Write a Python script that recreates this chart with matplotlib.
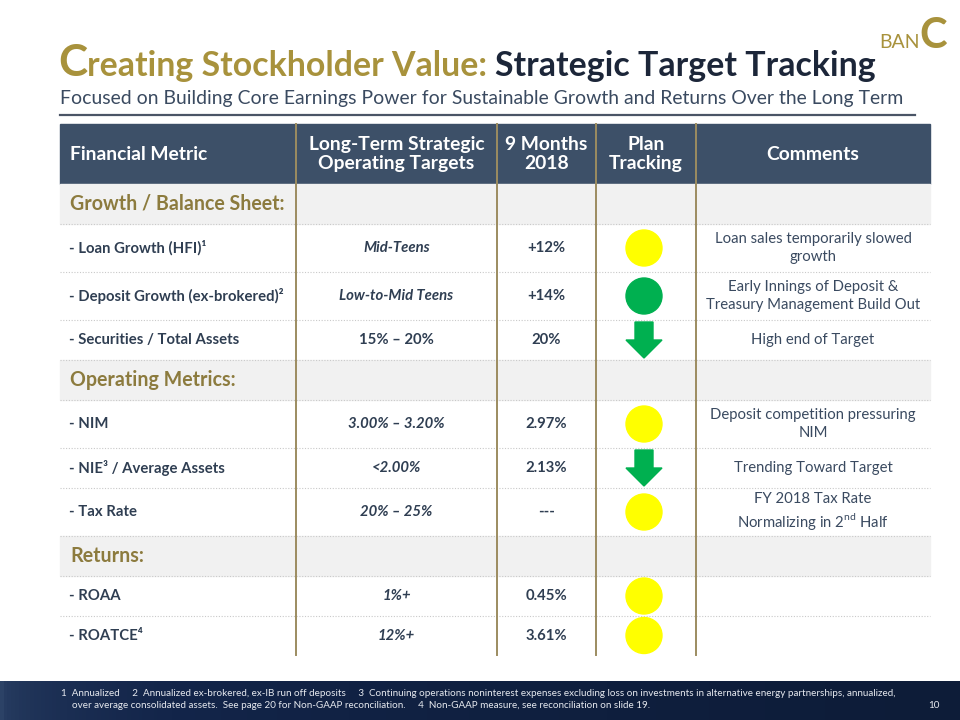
import matplotlib
matplotlib.use("Agg")
import matplotlib.pyplot as plt
import numpy as np
from matplotlib.patches import Rectangle, Circle, Polygon
from matplotlib.colors import LinearSegmentedColormap
from matplotlib import font_manager

# ---- data -----------------------------------------------------------------
headers = ["Financial Metric", "Long-Term Strategic\nOperating Targets",
           "9 Months\n2018", "Plan\nTracking", "Comments"]
section_titles = ["Growth / Balance Sheet:", "Operating Metrics:", "Returns:"]
section_sizes = [3, 3, 2]
metrics = ["- Loan Growth (HFI)¹", "- Deposit Growth (ex-brokered)²",
           "- Securities / Total Assets", "- NIM", "- NIE³ / Average Assets",
           "- Tax Rate", "- ROAA", "- ROATCE⁴"]
targets = ["Mid-Teens", "Low-to-Mid Teens", "15% – 20%", "3.00% – 3.20%",
           "<2.00%", "20% – 25%", "1%+", "12%+"]
target_style = ["italic", "italic", "normal", "italic", "italic", "italic",
                "italic", "italic"]
results = ["+12%", "+14%", "20%", "2.97%", "2.13%", "---", "0.45%", "3.61%"]
status = ["yellow", "green", "down", "yellow", "down", "yellow", "yellow", "yellow"]
comments = ["Loan sales temporarily slowed\ngrowth",
            "Early Innings of Deposit &\nTreasury Management Build Out",
            "High end of Target",
            "Deposit competition pressuring\nNIM",
            "Trending Toward Target",
            "FY 2018 Tax Rate\nNormalizing in 2$^{\\rm nd}$ Half",
            "", ""]
footnotes = ["1  Annualized     2  Annualized ex-brokered, ex-IB run off deposits     "
             "3  Continuing operations noninterest expenses excluding loss on investments "
             "in alternative energy partnerships, annualized,",
             "over average consolidated assets.  See page 20 for Non-GAAP reconciliation.     "
             "4  Non-GAAP measure, see reconciliation on slide 19."]

# ---- style ----------------------------------------------------------------
FONT = ["Lato", "DejaVu Sans"]
plt.rcParams["mathtext.fontset"] = "custom"
plt.rcParams["mathtext.rm"] = "Lato"
try:
    font_manager.findfont("Liberation Sans Narrow", fallback_to_default=False)
    NARROW = ["Liberation Sans Narrow", "DejaVu Sans"]
except Exception:
    NARROW = FONT

GOLD = "#a8923c"
GOLD_DARK = "#8c7b3e"
NAVY = "#1c2639"
SLATE = "#3a4a60"
HEAD = "#3d5068"
TXT = "#2f3e52"
SEP = "#9c8c60"
GREY = "#f1f1f1"
YELLOW = "#ffff00"
GREEN = "#00b050"

fig = plt.figure(figsize=(9.6, 7.2), dpi=100)
ax = fig.add_axes([0, 0, 1, 1])
renderer = fig.canvas.get_renderer()


def width_of(t):
    return t.get_window_extent(renderer).width


def size_for(s, width, family=FONT, **kw):
    t = ax.text(0, 0, s, fontsize=10, family=family, **kw)
    w = width_of(t)
    t.remove()
    return 10 * width / w


# footer band
cmap = LinearSegmentedColormap.from_list("foot", ["#2c4266", "#13254a", "#0d1c38"])
ax.imshow(np.linspace(0, 1, 256)[None, :] ** 0.4, cmap=cmap, aspect="auto",
          extent=[0, 960, 720, 681], zorder=0)
ax.set_xlim(0, 960)
ax.set_ylim(720, 0)
ax.axis("off")

# ---- title ----------------------------------------------------------------
ts = size_for("reating Stockholder Value: Strategic Target Tracking", 790,
              fontweight="bold")
parts = [("C", ts * 1.3, GOLD), ("reating Stockholder Value: ", ts, GOLD),
         ("Strategic Target Tracking", ts, NAVY)]
x = 58
for s, fs, c in parts:
    t = ax.text(x, 76, s, fontsize=fs, color=c, fontweight="bold", family=FONT,
                va="baseline")
    x += width_of(t)

sub = "Focused on Building Core Earnings Power for Sustainable Growth and Returns Over the Long Term"
ax.text(60, 104, sub, fontsize=size_for(sub, 843), color=SLATE, family=FONT,
        va="baseline")
ax.plot([60, 915], [115, 115], color="#4a5566", lw=1.6)

# logo
t = ax.text(879, 48, "BAN", fontsize=14, color=GOLD, family=FONT, va="baseline")
ax.text(879 + width_of(t), 48, "C", fontsize=30, color=GOLD, fontweight="bold",
        family=FONT, va="baseline")

# ---- table ----------------------------------------------------------------
cols = [60, 296, 497, 596, 696, 930]
centers = [(a + b) / 2 for a, b in zip(cols[:-1], cols[1:])]
top, head_h = 124, 60

hs = size_for("Long-Term Strategic", 176, fontweight="bold")
ls = size_for("- Deposit Growth (ex-brokered)", 210, fontweight="bold")
ss = size_for("Growth / Balance Sheet:", 216, fontweight="bold")
cs = size_for("Treasury Management Build Out", 214)

ax.add_patch(Rectangle((cols[0], top), cols[-1] - cols[0], head_h, color=HEAD, zorder=1))
for i, h in enumerate(headers):
    if i == 0:
        ax.text(cols[0] + 10, top + head_h / 2, h, fontsize=hs, color="white",
                fontweight="bold", family=FONT, va="center", ha="left")
    else:
        ax.text(centers[i], top + head_h / 2, h, fontsize=hs, color="white",
                fontweight="bold", family=FONT, va="center", ha="center",
                linespacing=1.15)

# row layout
rows = []
k = 0
for title, n in zip(section_titles, section_sizes):
    rows.append(("section", title, 40))
    for _ in range(n):
        h = 48 if "\n" in comments[k] else 40
        rows.append(("metric", k, h))
        k += 1
rows[-1] = (rows[-1][0], rows[-1][1], 39)

y = top + head_h
for kind, item, h in rows:
    yc = y + h / 2
    if kind == "section":
        ax.add_patch(Rectangle((cols[0], y), cols[-1] - cols[0], h, color=GREY, zorder=1))
        ax.text(cols[0] + 10, yc, item, fontsize=ss, color=GOLD_DARK,
                fontweight="bold", family=FONT, va="center")
    else:
        i = item
        ax.text(cols[0] + 9, yc, metrics[i], fontsize=ls, color=TXT,
                fontweight="bold", family=FONT, va="center")
        ax.text(centers[1], yc, targets[i], fontsize=ls, color=TXT,
                fontweight="bold", fontstyle=target_style[i], family=FONT,
                va="center", ha="center")
        ax.text(centers[2], yc, results[i], fontsize=ls, color=TXT,
                fontweight="bold", family=FONT, va="center", ha="center")
        if comments[i]:
            ax.text(centers[4], yc, comments[i], fontsize=cs, color=SLATE,
                    family=FONT, va="center", ha="center", linespacing=1.3)
        cx = centers[3] - 2
        if status[i] == "down":
            ax.add_patch(Polygon([(cx - 9, yc - 18), (cx + 9, yc - 18), (cx + 9, yc),
                                  (cx + 18, yc), (cx, yc + 18), (cx - 18, yc),
                                  (cx - 9, yc)], color=GREEN, zorder=3))
        else:
            col = YELLOW if status[i] == "yellow" else GREEN
            ax.add_patch(Circle((cx, yc), 18, color=col, zorder=3))
    if y > top + head_h:
        ax.plot([cols[0], cols[-1]], [y, y], color="#c9c9c9", lw=0.8,
                ls=(0, (1, 1.5)), zorder=2)
    y += h

for xc in cols[1:-1]:
    ax.plot([xc, xc], [top, y], color=SEP, lw=1.4, zorder=4)

# ---- footer ---------------------------------------------------------------
fs = size_for(footnotes[0], 833, family=NARROW)
ax.text(61, 693, footnotes[0], fontsize=fs, color="#e6e9ef", family=NARROW,
        va="center")
ax.text(72, 706, footnotes[1], fontsize=fs, color="#e6e9ef", family=NARROW,
        va="center")
ax.text(940, 706, "10", fontsize=fs, color="#e6e9ef", family=NARROW,
        va="center", ha="right")

fig.savefig("out.png", dpi=100)
